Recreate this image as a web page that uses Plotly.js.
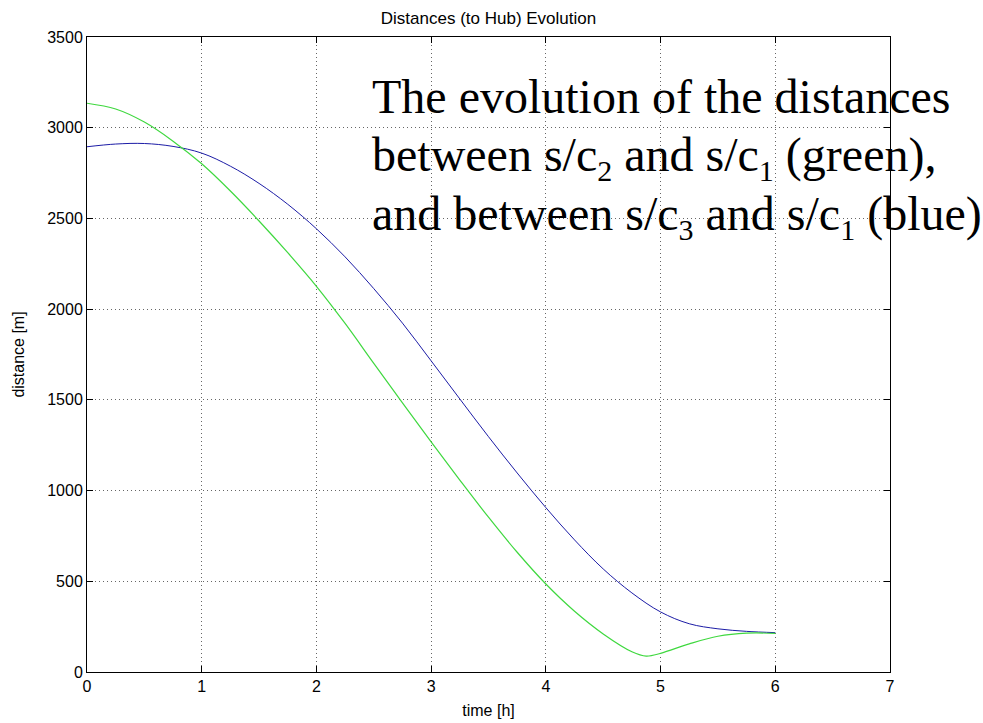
<!DOCTYPE html>
<html>
<head>
<meta charset="utf-8">
<script src="https://cdn.plot.ly/plotly-3.0.1.min.js"></script>
<style>html,body{margin:0;padding:0;background:#fff;}#chart{width:983px;height:723px;}</style>
</head>
<body>
<div id="chart"></div>
<script>
// time [h] and distances [m]
const blueTime = [0, 0.25, 0.5, 0.75, 1.0, 1.25, 1.5, 1.75, 2.0, 2.25, 2.5, 2.75, 3.0, 3.25, 3.5, 3.75, 4.0, 4.25, 4.5, 4.75, 5.0, 5.25, 5.5, 5.75, 6.0];
const blueDist = [2895, 2910, 2913, 2897, 2860, 2788, 2693, 2578, 2443, 2288, 2113, 1923, 1715, 1505, 1297, 1097, 906, 728, 568, 436, 331, 266, 238, 224, 217];
const greenTime = [0, 0.25, 0.5, 0.75, 1.0, 1.25, 1.5, 1.75, 2.0, 2.25, 2.5, 2.75, 3.0, 3.25, 3.5, 3.75, 4.0, 4.25, 4.5, 4.75, 4.875, 5.0, 5.25, 5.5, 5.75, 6.0];
const greenDist = [3135, 3103, 3031, 2926, 2801, 2651, 2486, 2311, 2126, 1921, 1701, 1483, 1268, 1058, 853, 660, 485, 335, 210, 112, 88, 103, 155, 197, 214, 213];
const xTicks = [0, 1, 2, 3, 4, 5, 6, 7];
const yTicks = [0, 500, 1000, 1500, 2000, 2500, 3000, 3500];
const titleText = 'Distances (to Hub) Evolution';
const xLabel = 'time [h]';
const yLabel = 'distance [m]';
const noteLines = [
  'The evolution of the distances',
  'between s/c<sub><span style="font-size:30px">2</span></sub> and s/c<sub><span style="font-size:30px">1</span></sub> (green),',
  'and between s/c<sub><span style="font-size:30px">3</span></sub> and s/c<sub><span style="font-size:30px">1</span></sub> (blue)'
];

const sans = 'Liberation Sans, Arial, sans-serif';
const serif = 'Liberation Serif, Times New Roman, serif';

const traces = [
  {x: blueTime, y: blueDist, type: 'scatter', mode: 'lines',
   line: {color: '#1c1ca6', width: 1, shape: 'spline', smoothing: 1}, hoverinfo: 'skip'},
  {x: greenTime, y: greenDist, type: 'scatter', mode: 'lines',
   line: {color: '#3fd83f', width: 1.2, shape: 'spline', smoothing: 1}, hoverinfo: 'skip'}
];

const noteY = [96, 157, 216];
const annotations = noteLines.map((t, i) => ({
  text: t, xref: 'paper', yref: 'paper',
  x: (370 - 87) / 803, y: (672 - noteY[i]) / 635,
  xanchor: 'left', yanchor: 'middle', showarrow: false,
  font: {family: serif, size: 48, color: '#000'}
}));

const axisCommon = {
  showline: true, linecolor: '#000', linewidth: 1, mirror: 'ticks',
  ticks: 'inside', ticklen: 6, tickcolor: '#000', tickwidth: 1,
  showgrid: true, gridcolor: '#666', gridwidth: 1, griddash: '1px,3px',
  zeroline: false, tickfont: {family: sans, size: 16, color: '#000'}
};

const layout = {
  width: 983, height: 723,
  margin: {l: 87, r: 93, t: 37, b: 51},
  paper_bgcolor: '#fff', plot_bgcolor: '#fff',
  showlegend: false,
  title: {text: titleText, font: {family: sans, size: 17, color: '#000'},
          x: 0.5, xref: 'paper', y: 1 - 18 / 723, yanchor: 'middle'},
  xaxis: Object.assign({}, axisCommon, {
    range: [0, 7], tickvals: xTicks, ticktext: xTicks.map(String),
    title: {text: xLabel, font: {family: sans, size: 16, color: '#000'}, standoff: 10}
  }),
  yaxis: Object.assign({}, axisCommon, {
    range: [0, 3500], tickvals: yTicks, ticktext: yTicks.map(String),
    title: {text: yLabel, font: {family: sans, size: 16, color: '#000'}, standoff: 18}
  }),
  annotations: annotations
};

Plotly.newPlot('chart', traces, layout, {staticPlot: true, displayModeBar: false});
</script>
</body>
</html>
